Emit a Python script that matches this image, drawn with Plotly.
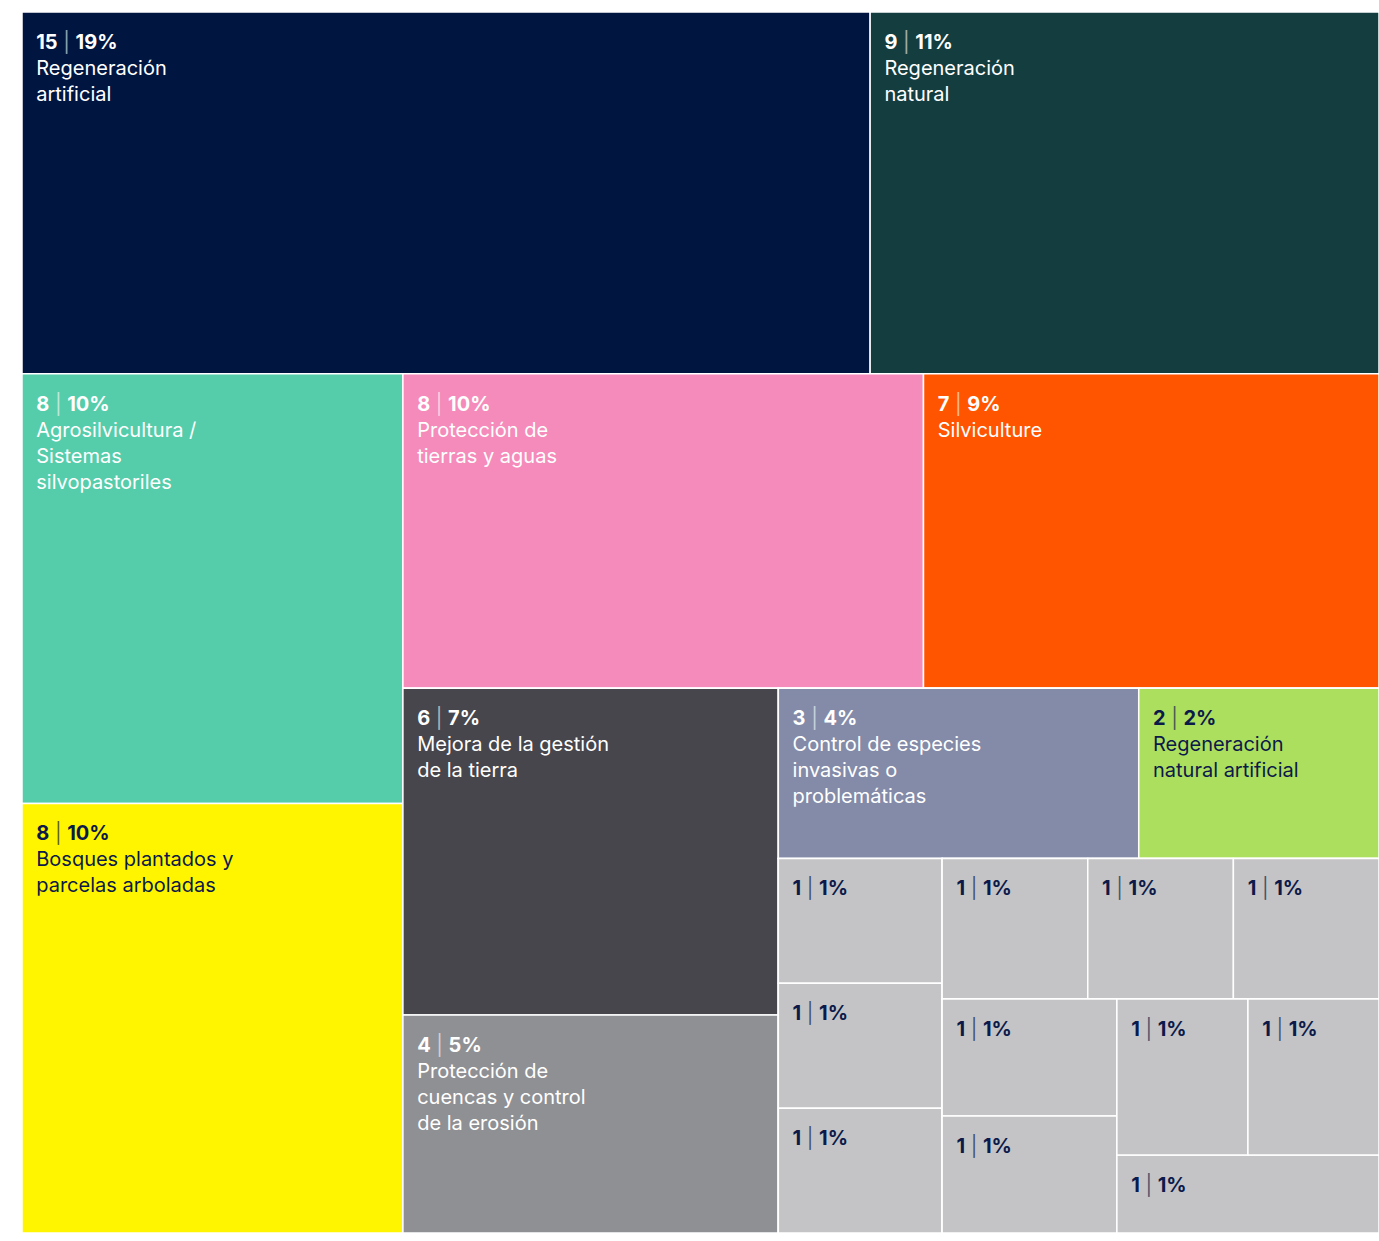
import plotly.graph_objects as go

# ---- data ----
leaf_ids = ["reg_art", "reg_nat", "agro", "bosques", "prot_tierras", "silvi",
            "mejora", "cuencas", "control", "reg_nat_art",
            "o1", "o2", "o3", "o4", "o5", "o6", "o7", "o8", "o9", "o10", "o11"]
leaf_names = [["Regeneración", "artificial"], ["Regeneración", "natural"],
              ["Agrosilvicultura /", "Sistemas", "silvopastoriles"],
              ["Bosques plantados y", "parcelas arboladas"],
              ["Protección de", "tierras y aguas"], ["Silviculture"],
              ["Mejora de la gestión", "de la tierra"],
              ["Protección de", "cuencas y control", "de la erosión"],
              ["Control de especies", "invasivas o", "problemáticas"],
              ["Regeneración", "natural artificial"]] + [[]] * 11
leaf_values = [15, 9, 8, 8, 8, 7, 6, 4, 3, 2] + [1] * 11
leaf_colors = ["#001540", "#143d40", "#55cdab", "#fff500", "#f58bba", "#ff5500",
               "#46464c", "#8f9094", "#838ba8", "#addf5e"] + ["#c4c4c6"] * 11
leaf_text_dark = [False, False, False, True, False, False, False, False, False, True] + [True] * 11
leaf_parents = ["g_top", "g_top", "g_left", "g_left", "g_r_top", "g_r_top",
                "g_col", "g_col", "g_row", "g_row",
                "g_o_left", "g_o_left", "g_o_left",
                "g_o_top", "g_o_top", "g_o_top",
                "g_o_col", "g_o_col", "g_o_pair", "g_o_pair", "g_o_r"]

# layout grouping (invisible parents)
group_ids = ["root", "g_top", "g_bot", "g_left", "g_right", "g_r_top", "g_r_bot",
             "g_col", "g_rest", "g_row", "g_ones", "g_o_left", "g_o_right",
             "g_o_top", "g_o_bot", "g_o_col", "g_o_r", "g_o_pair"]
group_parents = ["", "root", "root", "g_bot", "g_bot", "g_right", "g_right",
                 "g_r_bot", "g_r_bot", "g_rest", "g_rest", "g_ones", "g_ones",
                 "g_o_right", "g_o_right", "g_o_bot", "g_o_bot", "g_o_r"]

WHITE = "#ffffff"
NAVY = "#0b1a4a"
IND = "\u00a0\u00a0"
TOPGAP = "<span style='font-size:8px'>\u00a0</span><br>"

ids, labels, parents, values, colors, tcolors, templates = [], [], [], [], [], [], []
for g, p in zip(group_ids, group_parents):
    ids.append(g); labels.append(g); parents.append(p); values.append(0)
    colors.append("#c4c4c6"); tcolors.append(WHITE); templates.append("")

for i, n, v, c, d, p in zip(leaf_ids, leaf_names, leaf_values, leaf_colors,
                            leaf_text_dark, leaf_parents):
    ids.append(i); labels.append(i); parents.append(p); values.append(v)
    colors.append(c)
    tcolors.append(NAVY if d else WHITE)
    sep_col = "rgba(11,26,74,0.7)" if d else "rgba(255,255,255,0.6)"
    t = (TOPGAP + IND + "<b>%{value}</b> <span style='color:" + sep_col + "'>|</span> "
         "<b>%{percentRoot:.0%}</b>")
    for line in n:
        t += "<br>" + IND + line
    templates.append(t)

fig = go.Figure(go.Treemap(
    ids=ids, labels=labels, parents=parents, values=values,
    branchvalues="remainder", sort=False,
    marker=dict(colors=colors, line=dict(color="white", width=1.5),
                pad=dict(t=0, l=0, r=0, b=0)),
    tiling=dict(packing="dice-slice", pad=0),
    pathbar=dict(visible=False),
    texttemplate=templates,
    textposition="top left",
    textfont=dict(family="Inter, Roboto, sans-serif", size=20, color=tcolors),
    hoverinfo="skip",
))
fig.update_layout(
    width=1379, height=1241,
    margin=dict(l=22, r=0, t=12, b=8),
    paper_bgcolor="white",
)
fig.write_html("out.html", config={"displayModeBar": False},
               post_script="document.body.style.margin='0px';")
